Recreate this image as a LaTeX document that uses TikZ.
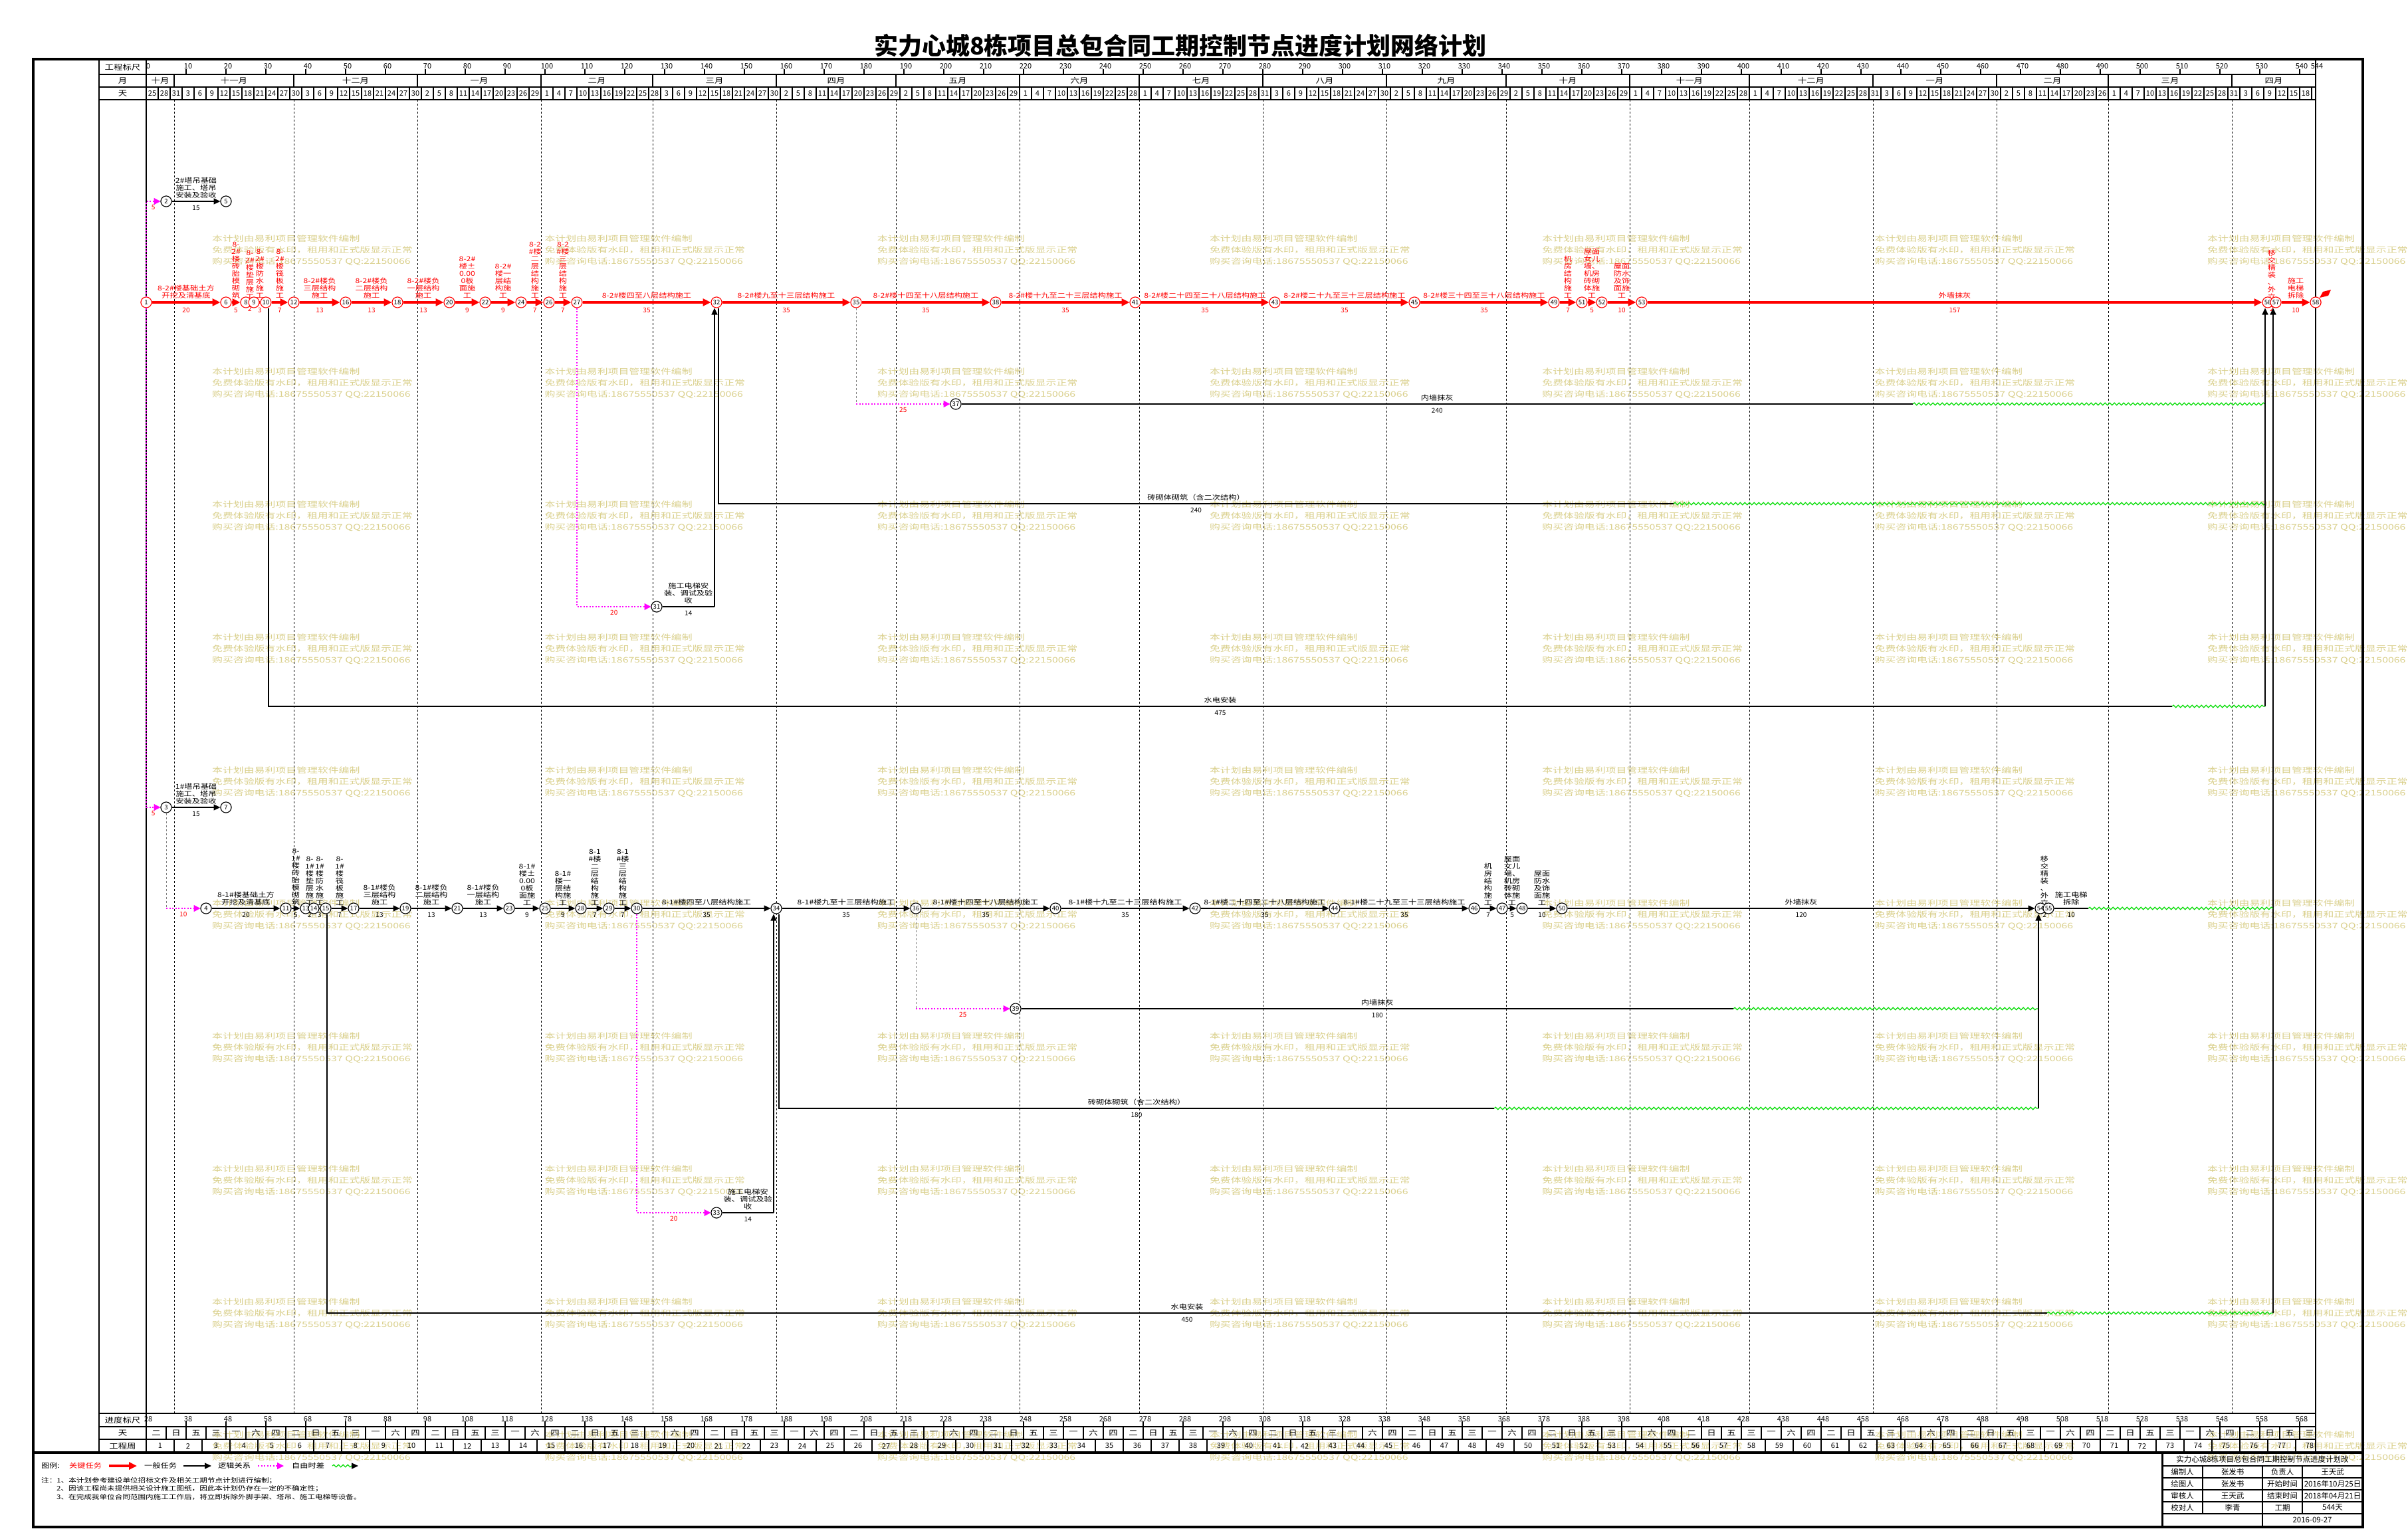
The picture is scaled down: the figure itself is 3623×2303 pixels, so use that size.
\documentclass[tikz,border=0pt]{standalone}
\usepackage{fontspec}
\setmainfont{Noto Sans CJK SC}
\newfontfamily\wf[FakeStretch=1.22]{Noto Sans CJK SC}
\newfontfamily\wmf[FakeStretch=1.38]{Noto Sans CJK SC}
\usetikzlibrary{arrows.meta,decorations.pathmorphing,calendar}
\definecolor{wm}{RGB}{218,208,140}
\definecolor{mag}{RGB}{255,0,255}
\definecolor{grn}{RGB}{0,220,0}
\newcommand\ex[1]{220+6*(#1)}
\newcount\jdcount
\newcount\jdbase
\tikzset{
  ev/.style={circle,draw=black,fill=white,minimum size=16pt,inner sep=0pt,line width=1pt,font=\fontsize{9.5}{9.5}\selectfont},
  cev/.style={ev,draw=red},
  crit/.style={draw=red,line width=4pt,-{Triangle[length=12pt,width=11pt]}},
  norm/.style={draw=black,line width=1.4pt,-{Triangle[length=10pt,width=9pt]}},
  plainln/.style={draw=black,line width=1.4pt},
  logic/.style={draw=mag,line width=1.3pt,dash pattern=on 2pt off 2.5pt,-{Triangle[length=10pt,width=10pt]}},
  greyd/.style={draw=gray,line width=1pt,dash pattern=on 3pt off 3pt},
  flt/.style={draw=grn,line width=1.2pt,decorate,decoration={snake,amplitude=1.8pt,segment length=7pt}},
  lbl/.style={font=\wf\fontsize{10}{11}\selectfont,align=center,inner sep=1pt},
  clbl/.style={lbl,text=red},
  dur/.style={font=\fontsize{10}{10}\selectfont,inner sep=1pt},
  cdur/.style={dur,text=red},
  hdr/.style={font=\fontsize{11}{11}\selectfont,inner sep=0pt},
  hdrw/.style={font=\wf\fontsize{11}{11}\selectfont,inner sep=0pt},
  mline/.style={draw=black,line width=0.9pt,dash pattern=on 3pt off 3pt},
  gridln/.style={draw=black,line width=1.4pt},
  tbln/.style={draw=black,line width=1.2pt},
  tbtxt/.style={font=\fontsize{11.5}{11.5}\selectfont,inner sep=0pt},
  lgd/.style={font=\wf\fontsize{10}{10}\selectfont,inner sep=0pt,anchor=west},
  note/.style={font=\wf\fontsize{9.5}{10}\selectfont,inner sep=0pt,anchor=west},
  wmtext/.style={text=wm,font=\wmf\fontsize{11.5}{16.7}\selectfont,align=left,anchor=north west,inner sep=0pt},
}
\newcommand\cact[4]{\draw[crit] (n#1) -- (n#2) node[midway,above=3pt,clbl]{#3} node[midway,below=5pt,cdur]{#4};}
\newcommand\cactp[4]{\path (n#1) -- (n#2) node[midway,above=3pt,clbl]{#3} node[midway,below=5pt,cdur]{#4};}
\newcommand\nact[4]{\draw[norm] (n#1) -- (n#2) node[midway,above=3pt,lbl]{#3} node[midway,below=5pt,dur]{#4};}
\newcommand\nactp[4]{\path (n#1) -- (n#2) node[midway,above=3pt,lbl]{#3} node[midway,below=5pt,dur]{#4};}
\newcommand\placeevents{%
  \foreach \n/\dy in {1/0,6/20,8/25,9/27,10/30,12/37,16/50,18/63,20/76,22/85,24/94,26/101,27/108,32/143,35/178,38/213,41/248,43/283,45/318,49/353,51/360,52/365,53/375,56/532,57/534,58/544}
    {\node[cev] (n\n) at ({\ex{\dy}},455) {\n};}
  \foreach \n/\dy in {4/15,11/35,13/40,14/42,15/45,17/52,19/65,21/78,23/91,25/100,28/109,29/116,30/123,34/158,36/193,40/228,42/263,44/298,46/333,47/340,48/345,50/355,54/475,55/477}
    {\node[ev] (n\n) at ({\ex{\dy}},1367) {\n};}
  \node[ev] (n2) at ({\ex{5}},303) {2};
  \node[ev] (n5) at ({\ex{20}},303) {5};
  \node[ev] (n3) at ({\ex{5}},1215) {3};
  \node[ev] (n7) at ({\ex{20}},1215) {7};
  \node[ev] (n31) at ({\ex{128}},913) {31};
  \node[ev] (n37) at ({\ex{203}},608) {37};
  \node[ev] (n33) at ({\ex{143}},1825) {33};
  \node[ev] (n39) at ({\ex{218}},1518) {39};
}
\begin{document}
\begin{tikzpicture}[x=1pt,y=-1pt]
\useasboundingbox (0,0) rectangle (3623,2303);
\fill[white] (0,0) rectangle (3623,2303);

% ---------- watermarks
\foreach \i in {0,...,6}{\foreach \j in {0,...,9}{
  \node[wmtext] at ({319+500.3*\i},{354+200*\j}) {本计划由易利项目管理软件编制\\免费体验版有水印，租用和正式版显示正常\\购买咨询电话:18675550537 QQ:22150066};
}}

% ---------- title
\node[font=\fontsize{36}{36}\selectfont\bfseries] (title) at (1776,69) {实力心城8栋项目总包合同工期控制节点进度计划网络计划};

% ---------- frame and grid
\draw[gridln] (149,89) -- (149,2186);
\draw[gridln] (220,89) -- (220,2186);
\draw[gridln] (3484,89) -- (3484,2186);
\foreach \yy in {112,131,150,2127,2147,2166} \draw[gridln] (149,\yy) -- (3484,\yy);
\draw[line width=4pt] (50,89) rectangle (3555,2298);
\draw[line width=4pt] (50,2186) -- (3555,2186);

% header labels
\node[hdrw] at (184.5,101) {工程标尺};
\node[hdrw] at (184.5,121.5) {月};
\node[hdrw] at (184.5,140.5) {天};
\node[hdrw] at (184.5,2137) {进度标尺};
\node[hdrw] at (184.5,2156.5) {天};
\node[hdrw] at (184.5,2176) {工程周};

% project scale
\foreach \k in {0,...,54}{
  \draw[tbln] ({\ex{10*\k}},104) -- ({\ex{10*\k}},112);
  \pgfmathtruncatemacro\vv{10*\k}
  \node[hdr] at ({\ex{10*\k}+3},100) {\vv};
}
\node[hdr] at (3486,100) {544};

% months
\foreach \a/\b/\m in {0/7/十月,7/37/十一月,37/68/十二月,68/99/一月,99/127/二月,127/158/三月,158/188/四月,188/219/五月,219/249/六月,249/280/七月,280/311/八月,311/341/九月,341/372/十月,372/402/十一月,402/433/十二月,433/464/一月,464/492/二月,492/523/三月,523/544/四月}{
  \node[hdrw] at ({\ex{(\a+\b)/2}},121.5) {\m};
}
\foreach \a in {7,37,68,99,127,158,188,219,249,280,311,341,372,402,433,464,492,523}{
  \draw[gridln] ({\ex{\a}},112) -- ({\ex{\a}},131);
  \draw[mline] ({\ex{\a}},150) -- ({\ex{\a}},2127);
}

% days
\pgfcalendardatetojulian{2016-10-25}{\jdbase}
\foreach \k in {0,...,180}{
  \jdcount=\jdbase
  \advance\jdcount by \numexpr3*\k\relax
  \pgfcalendarjuliantodate{\the\jdcount}{\calY}{\calM}{\calD}
  \node[hdr] at ({\ex{3*\k+1.5}},140.5) {\number\calD};
  \draw[tbln] ({\ex{3*\k}},131) -- ({\ex{3*\k}},150);
}
\draw[tbln] ({\ex{543}},131) -- ({\ex{543}},150);

% progress scale
\foreach \k in {0,...,54}{
  \draw[tbln] ({\ex{10*\k}},2139) -- ({\ex{10*\k}},2147);
  \pgfmathtruncatemacro\vv{10*\k+28}
  \node[hdr] at ({\ex{10*\k}+3},2136) {\vv};
}
% weekdays
\foreach \k in {0,...,108}{
  \pgfmathtruncatemacro\w{mod(2+5*\k,7)}
  \draw[tbln] ({\ex{5*\k}},2147) -- ({\ex{5*\k}},2166);
  \node[hdrw] at ({\ex{5*\k+2.5}},2156.5) {\ifcase\w 日\or 一\or 二\or 三\or 四\or 五\or 六\fi};
}
% weeks
\foreach \k in {0,...,77}{
  \pgfmathtruncatemacro\wk{\k+1}
  \draw[tbln] ({\ex{7*\k}},2166) -- ({\ex{7*\k}},2186);
  \node[hdr] at ({\ex{7*\k+3.5}},2176) {\wk};
}

% ---------- network
\placeevents

% top critical chain (8-2#)
\cact{1}{6}{8-2\#楼基础土方\\开挖及清基底}{20}
\cact{6}{8}{8-\\2\#\\楼\\砖\\胎\\模\\砌\\筑}{5}
\cactp{8}{9}{8-\\2\#\\楼\\垫\\层\\施\\工}{2}
\cact{9}{10}{8-\\2\#\\楼\\防\\水\\施\\工}{3}
\cact{10}{12}{8-\\2\#\\楼\\筏\\板\\施\\工}{7}
\cact{12}{16}{8-2\#楼负\\三层结构\\施工}{13}
\cact{16}{18}{8-2\#楼负\\二层结构\\施工}{13}
\cact{18}{20}{8-2\#楼负\\一层结构\\施工}{13}
\cact{20}{22}{8-2\#\\楼±\\0.00\\0板\\面施\\工}{9}
\cact{22}{24}{8-2\#\\楼一\\层结\\构施\\工}{9}
\cact{24}{26}{8-2\\\#楼\\二\\层\\结\\构\\施\\工}{7}
\cact{26}{27}{8-2\\\#楼\\三\\层\\结\\构\\施\\工}{7}
\cact{27}{32}{8-2\#楼四至八层结构施工}{35}
\cact{32}{35}{8-2\#楼九至十三层结构施工}{35}
\cact{35}{38}{8-2\#楼十四至十八层结构施工}{35}
\cact{38}{41}{8-2\#楼十九至二十三层结构施工}{35}
\cact{41}{43}{8-2\#楼二十四至二十八层结构施工}{35}
\cact{43}{45}{8-2\#楼二十九至三十三层结构施工}{35}
\cact{45}{49}{8-2\#楼三十四至三十八层结构施工}{35}
\cact{49}{51}{机\\房\\结\\构\\施\\工}{7}
\cact{51}{52}{屋面\\女儿\\墙、\\机房\\砖砌\\体施\\工}{5}
\cact{52}{53}{屋面\\防水\\及饰\\面施\\工}{10}
\cact{53}{56}{外墙抹灰}{157}
\cactp{56}{57}{移\\交\\精\\装\\、\\外\\立}{2}
\cact{57}{58}{施工\\电梯\\拆除}{10}
\fill[red] (3490,448) -- (3495,439) -- (3507,436) -- (3503,445) -- cycle;

% bottom chain (8-1#)
\nact{4}{11}{8-1\#楼基础土方\\开挖及清基底}{20}
\nact{11}{13}{8-\\1\#\\楼\\砖\\胎\\模\\砌\\筑}{5}
\nactp{13}{14}{8-\\1\#\\楼\\垫\\层\\施\\工}{2}
\nact{14}{15}{8-\\1\#\\楼\\防\\水\\施\\工}{3}
\nact{15}{17}{8-\\1\#\\楼\\筏\\板\\施\\工}{7}
\nact{17}{19}{8-1\#楼负\\三层结构\\施工}{13}
\nact{19}{21}{8-1\#楼负\\二层结构\\施工}{13}
\nact{21}{23}{8-1\#楼负\\一层结构\\施工}{13}
\nact{23}{25}{8-1\#\\楼±\\0.00\\0板\\面施\\工}{9}
\nact{25}{28}{8-1\#\\楼一\\层结\\构施\\工}{9}
\nact{28}{29}{8-1\\\#楼\\二\\层\\结\\构\\施\\工}{7}
\nact{29}{30}{8-1\\\#楼\\三\\层\\结\\构\\施\\工}{7}
\nact{30}{34}{8-1\#楼四至八层结构施工}{35}
\nact{34}{36}{8-1\#楼九至十三层结构施工}{35}
\nact{36}{40}{8-1\#楼十四至十八层结构施工}{35}
\nact{40}{42}{8-1\#楼十九至二十三层结构施工}{35}
\nact{42}{44}{8-1\#楼二十四至二十八层结构施工}{35}
\nact{44}{46}{8-1\#楼二十九至三十三层结构施工}{35}
\nact{46}{47}{机\\房\\结\\构\\施\\工}{7}
\nact{47}{48}{屋面\\女儿\\墙、\\机房\\砖砌\\体施\\工}{5}
\nact{48}{50}{屋面\\防水\\及饰\\面施\\工}{10}
\nact{50}{54}{外墙抹灰}{120}
\nactp{54}{55}{移\\交\\精\\装\\、\\外\\立}{2}

% tower cranes
\nact{2}{5}{2\#塔吊基础\\施工、塔吊\\安装及验收}{15}
\nact{3}{7}{1\#塔吊基础\\施工、塔吊\\安装及验收}{15}
\coordinate (m1) at (220,303);
\draw[logic] (n1) -- (m1) -- (n2) node[midway,below=4pt,cdur]{5};
\coordinate (m2) at (220,1215);
\draw[logic] (n1) -- (m2) -- (n3) node[midway,below=4pt,cdur]{5};
\coordinate (m3) at ({\ex{5}},1367);
\draw[greyd] (n3) -- (m3);
\draw[logic] (m3) -- (n4) node[midway,below=4pt,cdur]{10};

% top: hoist installation
\coordinate (m4) at ({\ex{108}},913);
\draw[logic] (n27) -- (m4) -- (n31) node[midway,below=4pt,cdur]{20};
\coordinate (c31) at (1075,913);
\draw[plainln] (n31) -- (c31) node[midway,above=3pt,lbl]{施工电梯安\\装、调试及验\\收} node[midway,below=5pt,dur]{14};
\draw[norm] (c31) -- (c31 |- n32.south);

% top: interior plaster
\coordinate (m5) at ({\ex{178}},608);
\draw[greyd] (n35) -- (m5);
\draw[logic] (m5) -- (n37) node[midway,below=4pt,cdur]{25};
\coordinate (e37) at ({\ex{443}},608);
\coordinate (f56a) at (3408,608);
\draw[plainln] (n37) -- (e37) node[midway,above=3pt,lbl]{内墙抹灰} node[midway,below=5pt,dur]{240};
\draw[flt] (e37) -- (f56a);

% top: masonry
\coordinate (s32) at (1081,758);
\coordinate (e32) at ({\ex{383}},758);
\coordinate (f56b) at (3408,758);
\draw[plainln] (s32 |- n32.south) -- (s32) -- (e32) node[midway,above=3pt,lbl]{砖砌体砌筑（含二次结构）} node[midway,below=5pt,dur]{240};
\draw[flt] (e32) -- (f56b);

% top: MEP
\coordinate (s10) at (404,1063);
\coordinate (e10) at (3268,1063);
\coordinate (f56c) at (3408,1063);
\draw[plainln] (s10 |- n10.south) -- (s10) -- (e10) node[midway,above=3pt,lbl]{水电安装} node[midway,below=5pt,dur]{475};
\draw[flt] (e10) -- (f56c);
\draw[norm] (f56c) -- (f56c |- n56.south);

% bottom: hoist installation
\coordinate (m6) at ({\ex{123}},1825);
\draw[logic] (n30) -- (m6) -- (n33) node[midway,below=4pt,cdur]{20};
\coordinate (c33) at (1164,1825);
\draw[plainln] (n33) -- (c33) node[midway,above=3pt,lbl]{施工电梯安\\装、调试及验\\收} node[midway,below=5pt,dur]{14};
\draw[norm] (c33) -- (c33 |- n34.south);

% bottom: interior plaster
\coordinate (m7) at ({\ex{193}},1518);
\draw[greyd] (n36) -- (m7);
\draw[logic] (m7) -- (n39) node[midway,below=4pt,cdur]{25};
\coordinate (e39) at ({\ex{398}},1518);
\coordinate (f54a) at (3067,1518);
\draw[plainln] (n39) -- (e39) node[midway,above=3pt,lbl]{内墙抹灰} node[midway,below=5pt,dur]{180};
\draw[flt] (e39) -- (f54a);

% bottom: masonry
\coordinate (s34) at (1172,1668);
\coordinate (e34) at ({\ex{338}},1668);
\coordinate (f54b) at (3067,1668);
\draw[plainln] (s34 |- n34.south) -- (s34) -- (e34) node[midway,above=3pt,lbl]{砖砌体砌筑（含二次结构）} node[midway,below=5pt,dur]{180};
\draw[flt] (e34) -- (f54b);
\draw[norm] (f54b) -- (f54b |- n54.south);

% bottom: MEP
\coordinate (s15) at (492,1976);
\coordinate (e15) at (3080,1976);
\coordinate (f57b) at (3420,1976);
\draw[plainln] (s15 |- n15.south) -- (s15) -- (e15) node[midway,above=3pt,lbl]{水电安装} node[midway,below=5pt,dur]{450};
\draw[flt] (e15) -- (f57b);
\draw[norm] (f57b) -- (f57b |- n57.south);

% bottom: hoist removal
\coordinate (e55) at ({\ex{487}},1367);
\coordinate (f57a) at (3420,1367);
\draw[plainln] (n55) -- (e55) node[midway,above=3pt,lbl]{施工电梯\\拆除} node[midway,below=5pt,dur]{10};
\draw[flt] (e55) -- (f57a);

\placeevents

% ---------- legend
\node[lgd] (lg0) at (62,2206) {图例:};
\node[lgd,text=red] (lg1) at (104,2206) {关键任务};
\coordinate (la1) at (164,2206); \coordinate (lb1) at (206,2206);
\draw[crit] (la1) -- (lb1);
\node[lgd] (lg2) at (217,2206) {一般任务};
\coordinate (la2) at (276,2206); \coordinate (lb2) at (318,2206);
\draw[norm] (la2) -- (lb2);
\node[lgd] (lg3) at (328,2206) {逻辑关系};
\coordinate (la3) at (388,2206); \coordinate (lb3) at (427,2206);
\draw[logic] (la3) -- (lb3);
\node[lgd] (lg4) at (439,2206) {自由时差};
\coordinate (la4) at (500,2206); \coordinate (lb4) at (529,2206); \coordinate (lc4) at (539,2206);
\draw[flt] (la4) -- (lb4);
\draw[norm] (lb4) -- (lc4);

\node[note] at (62,2228) {注：1、本计划参考建设单位招标文件及相关工期节点计划进行编制；};
\node[note] at (85,2240) {2、因该工程尚未提供相关设计施工图纸，因此本计划仍存在一定的不确定性；};
\node[note] at (85,2253) {3、在完成我单位合同范围内施工工作后，将立即拆除外脚手架、塔吊、施工电梯等设备。};

% ---------- title block
\draw[line width=3pt] (3253,2186) -- (3253,2298);
\foreach \yy in {2206,2224,2242,2260,2278} \draw[tbln] (3253,\yy) -- (3555,\yy);
\draw[tbln] (3314,2206) -- (3314,2278);
\draw[tbln] (3404,2206) -- (3404,2298);
\draw[tbln] (3464,2206) -- (3464,2278);
\node[tbtxt] at (3404,2196) {实力心城8栋项目总包合同工期控制节点进度计划改};
\node[tbtxt] at (3283.5,2215) {编制人};
\node[tbtxt] at (3359,2215) {张发书};
\node[tbtxt] at (3434,2215) {负责人};
\node[tbtxt] at (3509.5,2215) {王天武};
\node[tbtxt] at (3283.5,2233) {绘图人};
\node[tbtxt] at (3359,2233) {张发书};
\node[tbtxt] at (3434,2233) {开始时间};
\node[tbtxt] at (3509.5,2233) {2016年10月25日};
\node[tbtxt] at (3283.5,2251) {审核人};
\node[tbtxt] at (3359,2251) {王天武};
\node[tbtxt] at (3434,2251) {结束时间};
\node[tbtxt] at (3509.5,2251) {2018年04月21日};
\node[tbtxt] at (3283.5,2269) {校对人};
\node[tbtxt] at (3359,2269) {李青};
\node[tbtxt] at (3434,2269) {工期};
\node[tbtxt] at (3509.5,2269) {544天};
\node[tbtxt] at (3479,2287) {2016-09-27};
\end{tikzpicture}
\end{document}
